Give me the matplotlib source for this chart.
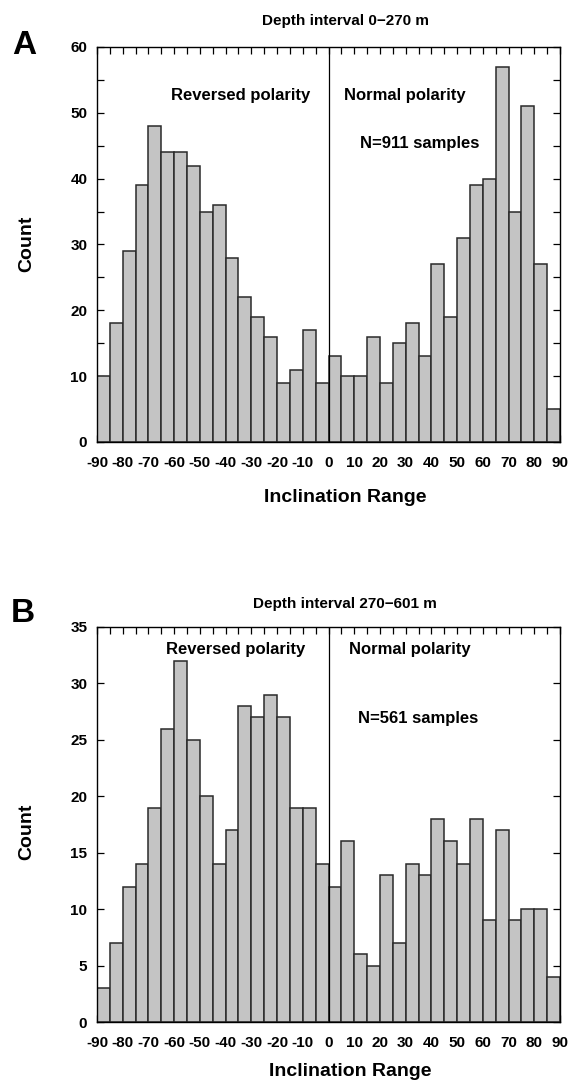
import numpy as np
import matplotlib
matplotlib.use("Agg")
import matplotlib.pyplot as plt
from matplotlib.ticker import MultipleLocator

bin_left = list(range(-90, 90, 5))
counts_a = [10, 18, 29, 39, 48, 44, 44, 42, 35, 36, 28, 22, 19, 16, 9, 11, 17, 9,
            13, 10, 10, 16, 9, 15, 18, 13, 27, 19, 31, 39, 40, 57, 35, 51, 27, 5]
counts_b = [3, 7, 12, 14, 19, 26, 32, 25, 20, 14, 17, 28, 27, 29, 27, 19, 19, 14,
            12, 16, 6, 5, 13, 7, 14, 13, 18, 16, 14, 18, 9, 17, 9, 10, 10, 4]
xtick_labels = ["-90", "-80", "-70", "-60", "-50", "-40", "-30", "-20", "-10", "0",
                "10", "20", "30", "40", "50", "60", "70", "80", "90"]
titles = ["Depth interval 0\u2212270 m", "Depth interval 270\u2212601 m"]
n_text = ["N=911 samples", "N=561 samples"]
panel_letters = ["A", "B"]
ymax = [60, 35]
ystep = [10, 5]

plt.rcParams['font.family'] = ['Liberation Sans', 'DejaVu Sans']
plt.rcParams['font.weight'] = 'bold'

W, H = 571, 1084
fig = plt.figure(figsize=(W / 100, H / 100), dpi=100)

def ax_rect(left, top, right, bottom):
    return [left / W, 1 - bottom / H, (right - left) / W, (bottom - top) / H]

rects = [ax_rect(97, 47, 560, 442), ax_rect(97, 627, 560, 1022)]
text_pos = [
    dict(rev=(-34, 52.7), nor=(29.5, 52.7), n=(35.3, 45.4)),
    dict(rev=(-36, 33.0), nor=(31.8, 33.0), n=(35.0, 26.9)),
]
# pixel positions (from top-left) for labels outside the axes
title_xy = [(345, 21), (345, 604)]
xlabel_xy = [(345, 497), (350, 1071)]
ylabel_xy = [(27, 244), (27, 832)]
letter_xy = [(24, 45), (23, 613)]

def ftext(x, y, s, **kw):
    fig.text(x / W, 1 - y / H, s, ha='center', va='center', fontweight='bold', **kw)

for i, counts in enumerate([counts_a, counts_b]):
    ax = fig.add_axes(rects[i])
    ax.bar(bin_left, counts, width=5, align='edge', color='#c4c4c4',
           edgecolor='#2a2a2a', linewidth=1.1, zorder=2)
    ax.axvline(0, color='black', linewidth=0.9, zorder=3)
    ax.set_xlim(-90, 90)
    ax.set_ylim(0, ymax[i])
    ax.set_xticks(list(range(-90, 91, 10)))
    ax.set_xticklabels(xtick_labels)
    ax.xaxis.set_minor_locator(MultipleLocator(5))
    ax.yaxis.set_major_locator(MultipleLocator(ystep[i]))
    ax.yaxis.set_minor_locator(MultipleLocator(5))
    ax.tick_params(axis='both', which='both', direction='in', top=True, right=True,
                   length=5, width=0.9, labelsize=11)
    ax.tick_params(axis='x', pad=10)
    ax.tick_params(axis='y', pad=7)
    for lab in ax.get_xticklabels() + ax.get_yticklabels():
        lab.set_fontweight('bold')
    for sp in ax.spines.values():
        sp.set_linewidth(1.0)
    tp = text_pos[i]
    ax.text(*tp['rev'], "Reversed polarity", ha='center', va='center',
            fontsize=12, fontweight='bold')
    ax.text(*tp['nor'], "Normal polarity", ha='center', va='center',
            fontsize=12, fontweight='bold')
    ax.text(*tp['n'], n_text[i], ha='center', va='center',
            fontsize=12, fontweight='bold')
    ftext(*title_xy[i], titles[i], fontsize=11)
    ftext(*xlabel_xy[i], "Inclination Range", fontsize=14)
    ftext(*ylabel_xy[i], "Count", fontsize=14, rotation=90)
    ftext(*letter_xy[i], panel_letters[i], fontsize=24)

fig.savefig("out.png", dpi=100)
